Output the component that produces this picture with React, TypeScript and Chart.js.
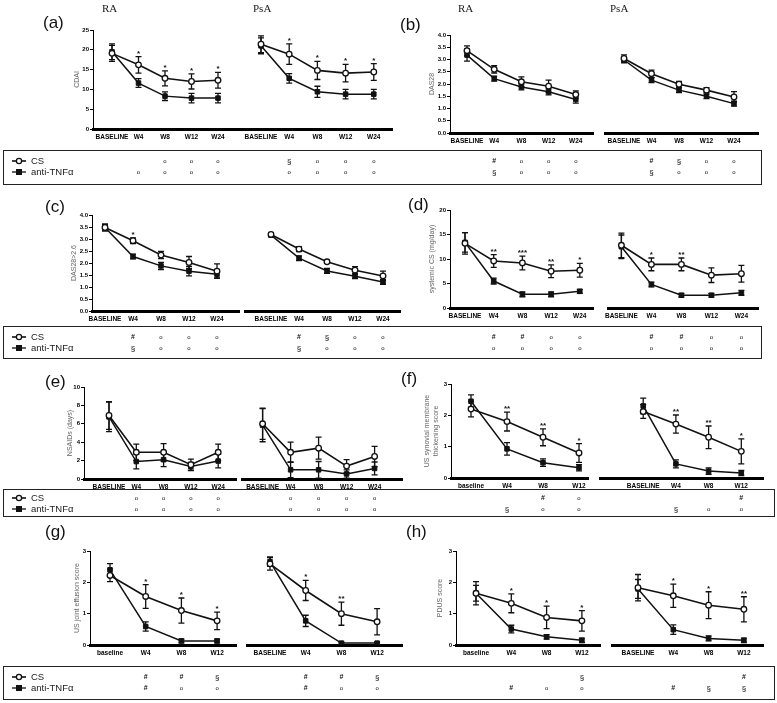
import React, { useEffect, useRef } from 'react';
import { Chart, registerables } from 'chart.js';

Chart.register(...registerables);

const FONT = 'Arial, "Liberation Sans", Helvetica, sans-serif';
const INK = '#111';
const XH = 12;

// ---- categories ----
const WEEKS5 = ['BASELINE', 'W4', 'W8', 'W12', 'W24'];
const WEEKS4_LC = ['baseline', 'W4', 'W8', 'W12'];
const WEEKS4_UC = ['BASELINE', 'W4', 'W8', 'W12'];
const GROUPS = ['RA', 'PsA'];
const SERIES = ['CS', 'anti-TNFα'];

// ---- (a) CDAI ----
const A_RA_CS = [19.1, 16.2, 12.8, 12.0, 12.3];
const A_RA_CS_ERR = [2.0, 2.1, 1.9, 1.9, 2.0];
const A_RA_TNF = [19.5, 11.6, 8.3, 7.8, 7.8];
const A_RA_TNF_ERR = [2.0, 1.1, 1.1, 1.2, 1.2];
const A_RA_STARS = ['', '*', '*', '*', '*'];
const A_RA_TAB_CS = ['', '', 'o', 'o', 'o'];
const A_RA_TAB_TNF = ['', 'o', 'o', 'o', 'o'];
const A_PSA_CS = [21.4, 18.9, 14.8, 14.1, 14.4];
const A_PSA_CS_ERR = [2.1, 2.6, 2.3, 2.2, 2.1];
const A_PSA_TNF = [21.0, 12.8, 9.4, 8.8, 8.8];
const A_PSA_TNF_ERR = [2.0, 1.2, 1.4, 1.2, 1.2];
const A_PSA_STARS = ['', '*', '*', '*', '*'];
const A_PSA_TAB_CS = ['', '§', 'o', 'o', 'o'];
const A_PSA_TAB_TNF = ['', 'o', 'o', 'o', 'o'];

// ---- (b) DAS28 ----
const B_RA_CS = [3.36, 2.6, 2.09, 1.91, 1.57];
const B_RA_CS_ERR = [0.2, 0.15, 0.2, 0.25, 0.15];
const B_RA_TNF = [3.18, 2.22, 1.88, 1.68, 1.37];
const B_RA_TNF_ERR = [0.25, 0.1, 0.12, 0.12, 0.15];
const B_RA_STARS = ['', '', '', '', ''];
const B_RA_TAB_CS = ['', '#', 'o', 'o', 'o'];
const B_RA_TAB_TNF = ['', '§', 'o', 'o', 'o'];
const B_PSA_CS = [3.04, 2.42, 1.99, 1.75, 1.47];
const B_PSA_CS_ERR = [0.15, 0.15, 0.12, 0.1, 0.22];
const B_PSA_TNF = [2.98, 2.16, 1.75, 1.5, 1.2];
const B_PSA_TNF_ERR = [0.12, 0.1, 0.1, 0.1, 0.1];
const B_PSA_STARS = ['', '', '', '', ''];
const B_PSA_TAB_CS = ['', '#', '§', 'o', 'o'];
const B_PSA_TAB_TNF = ['', '§', 'o', 'o', 'o'];

// ---- (c) DAS28>2.6 ----
const C_RA_CS = [3.48, 2.93, 2.33, 2.02, 1.66];
const C_RA_CS_ERR = [0.15, 0.12, 0.15, 0.25, 0.3];
const C_RA_TNF = [3.48, 2.27, 1.88, 1.66, 1.53];
const C_RA_TNF_ERR = [0.12, 0.1, 0.15, 0.2, 0.15];
const C_RA_STARS = ['', '*', '', '', ''];
const C_RA_TAB_CS = ['', '#', 'o', 'o', 'o'];
const C_RA_TAB_TNF = ['', '§', 'o', 'o', 'o'];
const C_PSA_CS = [3.19, 2.58, 2.05, 1.7, 1.46];
const C_PSA_CS_ERR = [0.06, 0.1, 0.06, 0.15, 0.2];
const C_PSA_TNF = [3.16, 2.2, 1.67, 1.45, 1.21];
const C_PSA_TNF_ERR = [0.06, 0.1, 0.1, 0.1, 0.1];
const C_PSA_STARS = ['', '', '', '', ''];
const C_PSA_TAB_CS = ['', '#', '§', 'o', 'o'];
const C_PSA_TAB_TNF = ['', '§', 'o', 'o', 'o'];

// ---- (d) systemic CS ----
const D_RA_CS = [13.2, 9.6, 9.2, 7.5, 7.7];
const D_RA_CS_ERR = [2.2, 1.3, 1.4, 1.3, 1.4];
const D_RA_TNF = [13.4, 5.5, 2.8, 2.8, 3.4];
const D_RA_TNF_ERR = [2.0, 0.6, 0.5, 0.5, 0.4];
const D_RA_STARS = ['', '**', '***', '**', '*'];
const D_RA_TAB_CS = ['', '#', '#', 'o', 'o'];
const D_RA_TAB_TNF = ['', 'o', 'o', 'o', 'o'];
const D_PSA_CS = [12.8, 8.9, 8.9, 6.7, 7.0];
const D_PSA_CS_ERR = [2.5, 1.3, 1.3, 1.5, 1.7];
const D_PSA_TNF = [12.5, 4.8, 2.6, 2.6, 3.1];
const D_PSA_TNF_ERR = [2.4, 0.5, 0.4, 0.4, 0.5];
const D_PSA_STARS = ['', '*', '**', '', ''];
const D_PSA_TAB_CS = ['', '#', '#', 'o', 'o'];
const D_PSA_TAB_TNF = ['', 'o', 'o', 'o', 'o'];

// ---- (e) NSAIDs ----
const E_RA_CS = [6.9, 2.9, 2.9, 1.55, 2.9];
const E_RA_CS_ERR = [1.5, 0.9, 0.95, 0.6, 0.9];
const E_RA_TNF = [6.75, 1.9, 2.1, 1.35, 1.95];
const E_RA_TNF_ERR = [1.6, 0.8, 0.75, 0.45, 0.75];
const E_RA_STARS = ['', '', '', '', ''];
const E_RA_TAB_CS = ['', 'o', 'o', 'o', 'o'];
const E_RA_TAB_TNF = ['', 'o', 'o', 'o', 'o'];
const E_PSA_CS = [6.0, 2.9, 3.35, 1.4, 2.45];
const E_PSA_CS_ERR = [1.7, 1.1, 1.2, 0.7, 1.1];
const E_PSA_TNF = [5.85, 1.0, 1.0, 0.55, 1.15];
const E_PSA_TNF_ERR = [1.8, 0.85, 0.9, 0.45, 0.7];
const E_PSA_STARS = ['', '', '', '', ''];
const E_PSA_TAB_CS = ['', 'o', 'o', 'o', 'o'];
const E_PSA_TAB_TNF = ['', 'o', 'o', 'o', 'o'];

// ---- (f) US synovial membrane thickening ----
const F_RA_CS = [2.2, 1.8, 1.3, 0.8];
const F_RA_CS_ERR = [0.25, 0.3, 0.27, 0.3];
const F_RA_TNF = [2.45, 0.93, 0.49, 0.33];
const F_RA_TNF_ERR = [0.2, 0.2, 0.12, 0.1];
const F_RA_STARS = ['', '**', '**', '*'];
const F_RA_TAB_CS = ['', '', '#', 'o'];
const F_RA_TAB_TNF = ['', '§', 'o', 'o'];
const F_PSA_CS = [2.12, 1.72, 1.3, 0.85];
const F_PSA_CS_ERR = [0.22, 0.29, 0.36, 0.4];
const F_PSA_TNF = [2.3, 0.45, 0.22, 0.16];
const F_PSA_TNF_ERR = [0.25, 0.13, 0.1, 0.08];
const F_PSA_STARS = ['', '**', '**', '*'];
const F_PSA_TAB_CS = ['', '', '', '#'];
const F_PSA_TAB_TNF = ['', '§', 'o', 'o'];

// ---- (g) US joint effusion ----
const G_RA_CS = [2.22, 1.55, 1.1, 0.77];
const G_RA_CS_ERR = [0.2, 0.38, 0.4, 0.28];
const G_RA_TNF = [2.4, 0.59, 0.13, 0.13];
const G_RA_TNF_ERR = [0.2, 0.15, 0.06, 0.06];
const G_RA_STARS = ['', '*', '*', '*'];
const G_RA_TAB_CS = ['', '#', '#', '§'];
const G_RA_TAB_TNF = ['', '#', 'o', 'o'];
const G_PSA_CS = [2.59, 1.74, 1.0, 0.74];
const G_PSA_CS_ERR = [0.2, 0.32, 0.37, 0.42];
const G_PSA_TNF = [2.66, 0.77, 0.06, 0.06];
const G_PSA_TNF_ERR = [0.15, 0.18, 0.03, 0.03];
const G_PSA_STARS = ['', '*', '**', ''];
const G_PSA_TAB_CS = ['', '#', '#', '§'];
const G_PSA_TAB_TNF = ['', '#', 'o', 'o'];

// ---- (h) PDUS ----
const H_RA_CS = [1.65, 1.33, 0.88, 0.77];
const H_RA_CS_ERR = [0.37, 0.3, 0.36, 0.33];
const H_RA_TNF = [1.65, 0.51, 0.26, 0.15];
const H_RA_TNF_ERR = [0.25, 0.12, 0.07, 0.07];
const H_RA_STARS = ['', '*', '*', '*'];
const H_RA_TAB_CS = ['', '', '', '§'];
const H_RA_TAB_TNF = ['', '#', 'o', 'o'];
const H_PSA_CS = [1.83, 1.57, 1.27, 1.14];
const H_PSA_CS_ERR = [0.42, 0.37, 0.43, 0.4];
const H_PSA_TNF = [1.79, 0.49, 0.21, 0.15];
const H_PSA_TNF_ERR = [0.3, 0.15, 0.08, 0.07];
const H_PSA_STARS = ['', '*', '*', '**'];
const H_PSA_TAB_CS = ['', '', '', '#'];
const H_PSA_TAB_TNF = ['', '#', '§', '§'];

// ---- layout ----
type Row = { top: number; bottom: number; cs: number; tnf: number; boxTop: number; boxBottom: number; boxRight: number };
type Geo = {
  yAxisX: number; top: number; bottom: number; yw: number;
  raFirst: number; raStep: number; raRight: number;
  psaLeft: number; psaFirst: number; psaStep: number; psaRight: number;
};
type SubData = {
  labels: string[]; cs: number[]; csErr: number[]; tnf: number[]; tnfErr: number[];
  stars: string[]; tabCS: string[]; tabTNF: string[];
};
type Panel = {
  tag: string; tagX: number; tagY: number; leftSide: boolean; row: Row; geo: Geo;
  yMax: number; yStep: number; yDec: number; yTitle: string | string[];
  ra: SubData; psa: SubData;
};

const ROW1: Row = { top: 0, bottom: 190, cs: 161, tnf: 172, boxTop: 150, boxBottom: 185, boxRight: 762 };
const ROW2: Row = { top: 190, bottom: 362, cs: 337, tnf: 348, boxTop: 326, boxBottom: 359, boxRight: 762 };
const ROW3: Row = { top: 365, bottom: 522, cs: 498, tnf: 509, boxTop: 489, boxBottom: 517, boxRight: 775 };
const ROW4: Row = { top: 528, bottom: 703, cs: 677, tnf: 688, boxTop: 666, boxBottom: 700, boxRight: 775 };
const ROWS = [ROW1, ROW2, ROW3, ROW4];

const sd = (labels: string[], cs: number[], csErr: number[], tnf: number[], tnfErr: number[], stars: string[], tabCS: string[], tabTNF: string[]): SubData =>
  ({ labels, cs, csErr, tnf, tnfErr, stars, tabCS, tabTNF });

const PANELS: Panel[] = [
  {
    tag: '(a)', tagX: 43, tagY: 13, leftSide: true, row: ROW1,
    geo: { yAxisX: 93, top: 30, bottom: 129, yw: 20, raFirst: 112, raStep: 26.5, raRight: 239, psaLeft: 239, psaFirst: 261, psaStep: 28.2, psaRight: 392 },
    yMax: 25, yStep: 5, yDec: 0, yTitle: 'CDAI',
    ra: sd(WEEKS5, A_RA_CS, A_RA_CS_ERR, A_RA_TNF, A_RA_TNF_ERR, A_RA_STARS, A_RA_TAB_CS, A_RA_TAB_TNF),
    psa: sd(WEEKS5, A_PSA_CS, A_PSA_CS_ERR, A_PSA_TNF, A_PSA_TNF_ERR, A_PSA_STARS, A_PSA_TAB_CS, A_PSA_TAB_TNF),
  },
  {
    tag: '(b)', tagX: 400, tagY: 15, leftSide: false, row: ROW1,
    geo: { yAxisX: 450, top: 35, bottom: 133, yw: 22, raFirst: 467, raStep: 27.2, raRight: 593, psaLeft: 605, psaFirst: 624, psaStep: 27.5, psaRight: 758 },
    yMax: 4, yStep: 0.5, yDec: 1, yTitle: 'DAS28',
    ra: sd(WEEKS5, B_RA_CS, B_RA_CS_ERR, B_RA_TNF, B_RA_TNF_ERR, B_RA_STARS, B_RA_TAB_CS, B_RA_TAB_TNF),
    psa: sd(WEEKS5, B_PSA_CS, B_PSA_CS_ERR, B_PSA_TNF, B_PSA_TNF_ERR, B_PSA_STARS, B_PSA_TAB_CS, B_PSA_TAB_TNF),
  },
  {
    tag: '(c)', tagX: 45, tagY: 197, leftSide: true, row: ROW2,
    geo: { yAxisX: 92, top: 215, bottom: 311, yw: 22, raFirst: 105, raStep: 28, raRight: 239, psaLeft: 245, psaFirst: 271, psaStep: 28, psaRight: 400 },
    yMax: 4, yStep: 0.5, yDec: 1, yTitle: 'DAS28>2.6',
    ra: sd(WEEKS5, C_RA_CS, C_RA_CS_ERR, C_RA_TNF, C_RA_TNF_ERR, C_RA_STARS, C_RA_TAB_CS, C_RA_TAB_TNF),
    psa: sd(WEEKS5, C_PSA_CS, C_PSA_CS_ERR, C_PSA_TNF, C_PSA_TNF_ERR, C_PSA_STARS, C_PSA_TAB_CS, C_PSA_TAB_TNF),
  },
  {
    tag: '(d)', tagX: 408, tagY: 195, leftSide: false, row: ROW2,
    geo: { yAxisX: 450, top: 210, bottom: 308, yw: 22, raFirst: 465, raStep: 28.7, raRight: 593, psaLeft: 608, psaFirst: 621.4, psaStep: 30, psaRight: 758 },
    yMax: 20, yStep: 5, yDec: 0, yTitle: 'systemic CS (mg/day)',
    ra: sd(WEEKS5, D_RA_CS, D_RA_CS_ERR, D_RA_TNF, D_RA_TNF_ERR, D_RA_STARS, D_RA_TAB_CS, D_RA_TAB_TNF),
    psa: sd(WEEKS5, D_PSA_CS, D_PSA_CS_ERR, D_PSA_TNF, D_PSA_TNF_ERR, D_PSA_STARS, D_PSA_TAB_CS, D_PSA_TAB_TNF),
  },
  {
    tag: '(e)', tagX: 45, tagY: 372, leftSide: true, row: ROW3,
    geo: { yAxisX: 84, top: 387, bottom: 479, yw: 18, raFirst: 109, raStep: 27.3, raRight: 236, psaLeft: 242, psaFirst: 262.6, psaStep: 28, psaRight: 402 },
    yMax: 10, yStep: 2, yDec: 0, yTitle: 'NSAIDs (days)',
    ra: sd(WEEKS5, E_RA_CS, E_RA_CS_ERR, E_RA_TNF, E_RA_TNF_ERR, E_RA_STARS, E_RA_TAB_CS, E_RA_TAB_TNF),
    psa: sd(WEEKS5, E_PSA_CS, E_PSA_CS_ERR, E_PSA_TNF, E_PSA_TNF_ERR, E_PSA_STARS, E_PSA_TAB_CS, E_PSA_TAB_TNF),
  },
  {
    tag: '(f)', tagX: 401, tagY: 369, leftSide: false, row: ROW3,
    geo: { yAxisX: 451, top: 384, bottom: 478, yw: 28, raFirst: 471, raStep: 36, raRight: 588, psaLeft: 600, psaFirst: 643.2, psaStep: 32.7, psaRight: 763 },
    yMax: 3, yStep: 1, yDec: 0, yTitle: ['US synovial membrane', 'thickening score'],
    ra: sd(WEEKS4_LC, F_RA_CS, F_RA_CS_ERR, F_RA_TNF, F_RA_TNF_ERR, F_RA_STARS, F_RA_TAB_CS, F_RA_TAB_TNF),
    psa: sd(WEEKS4_UC, F_PSA_CS, F_PSA_CS_ERR, F_PSA_TNF, F_PSA_TNF_ERR, F_PSA_STARS, F_PSA_TAB_CS, F_PSA_TAB_TNF),
  },
  {
    tag: '(g)', tagX: 45, tagY: 522, leftSide: true, row: ROW4,
    geo: { yAxisX: 90, top: 551, bottom: 645, yw: 17, raFirst: 110, raStep: 35.7, raRight: 236, psaLeft: 247, psaFirst: 270, psaStep: 35.7, psaRight: 402 },
    yMax: 3, yStep: 1, yDec: 0, yTitle: 'US joint effusion score',
    ra: sd(WEEKS4_LC, G_RA_CS, G_RA_CS_ERR, G_RA_TNF, G_RA_TNF_ERR, G_RA_STARS, G_RA_TAB_CS, G_RA_TAB_TNF),
    psa: sd(WEEKS4_UC, G_PSA_CS, G_PSA_CS_ERR, G_PSA_TNF, G_PSA_TNF_ERR, G_PSA_STARS, G_PSA_TAB_CS, G_PSA_TAB_TNF),
  },
  {
    tag: '(h)', tagX: 406, tagY: 522, leftSide: false, row: ROW4,
    geo: { yAxisX: 456, top: 551, bottom: 645, yw: 20, raFirst: 476, raStep: 35.3, raRight: 600, psaLeft: 612, psaFirst: 638, psaStep: 35.3, psaRight: 763 },
    yMax: 3, yStep: 1, yDec: 0, yTitle: 'PDUS score',
    ra: sd(WEEKS4_LC, H_RA_CS, H_RA_CS_ERR, H_RA_TNF, H_RA_TNF_ERR, H_RA_STARS, H_RA_TAB_CS, H_RA_TAB_TNF),
    psa: sd(WEEKS4_UC, H_PSA_CS, H_PSA_CS_ERR, H_PSA_TNF, H_PSA_TNF_ERR, H_PSA_STARS, H_PSA_TAB_CS, H_PSA_TAB_TNF),
  },
];

// group headings (top row only)
const HEADINGS = [
  { text: GROUPS[0], x: 102 }, { text: GROUPS[1], x: 253 },
  { text: GROUPS[0], x: 458 }, { text: GROUPS[1], x: 610 },
];

type Sub = {
  left: number; top: number; w: number; h: number;
  padL: number; padR: number; padT: number; padB: number;
  xmin: number; xmax: number; showY: boolean; yw: number;
  yMax: number; yStep: number; yDec: number; yTitle: string | string[];
  d: SubData; rowCS: number; rowTNF: number; legend: boolean;
};

function buildSubs(): Sub[] {
  const out: Sub[] = [];
  PANELS.forEach((p) => {
    const g = p.geo, r = p.row;
    const h = r.bottom - r.top;
    const padT = g.top - r.top;
    const padB = r.bottom - g.bottom - XH;
    const raLeft = p.leftSide ? 0 : g.yAxisX - g.yw - 4;
    const padR = 8;
    out.push({
      left: raLeft, top: r.top, w: g.raRight + padR - raLeft, h,
      padL: g.yAxisX - g.yw - raLeft, padR, padT, padB,
      xmin: (g.yAxisX - g.raFirst) / g.raStep, xmax: (g.raRight - g.raFirst) / g.raStep,
      showY: true, yw: g.yw, yMax: p.yMax, yStep: p.yStep, yDec: p.yDec, yTitle: p.yTitle,
      d: p.ra, rowCS: r.cs - r.top, rowTNF: r.tnf - r.top, legend: p.leftSide,
    });
    const psLeft = g.psaLeft - 8;
    out.push({
      left: psLeft, top: r.top, w: g.psaRight + padR - psLeft, h,
      padL: 8, padR, padT, padB,
      xmin: (g.psaLeft - g.psaFirst) / g.psaStep, xmax: (g.psaRight - g.psaFirst) / g.psaStep,
      showY: false, yw: 0, yMax: p.yMax, yStep: p.yStep, yDec: p.yDec, yTitle: p.yTitle,
      d: p.psa, rowCS: r.cs - r.top, rowTNF: r.tnf - r.top, legend: false,
    });
  });
  return out;
}

const SUBS = buildSubs();

function makeChart(canvas: HTMLCanvasElement, s: Sub): Chart {
  const d = s.d;
  const overlay = {
    id: 'overlay',
    beforeDatasetsDraw(chart: any) {
      const ctx = chart.ctx, xs = chart.scales.x, ys = chart.scales.y;
      ctx.save();
      ctx.strokeStyle = INK;
      ctx.lineWidth = 1.3;
      const bars = (vals: number[], errs: number[]) => vals.forEach((v, i) => {
        const x = xs.getPixelForValue(i);
        const y1 = ys.getPixelForValue(v + errs[i]);
        const y2 = ys.getPixelForValue(Math.max(0, v - errs[i]));
        ctx.beginPath();
        ctx.moveTo(x, y1); ctx.lineTo(x, y2);
        ctx.moveTo(x - 3, y1); ctx.lineTo(x + 3, y1);
        ctx.moveTo(x - 3, y2); ctx.lineTo(x + 3, y2);
        ctx.stroke();
      });
      bars(d.tnf, d.tnfErr);
      bars(d.cs, d.csErr);
      ctx.restore();
    },
    afterDraw(chart: any) {
      const ctx = chart.ctx, xs = chart.scales.x, ys = chart.scales.y;
      ctx.save();
      ctx.fillStyle = INK;
      ctx.textAlign = 'center';
      // significance stars
      ctx.textBaseline = 'alphabetic';
      ctx.font = `bold 8px ${FONT}`;
      d.stars.forEach((st, i) => {
        if (!st) return;
        ctx.fillText(st, xs.getPixelForValue(i), ys.getPixelForValue(d.cs[i] + d.csErr[i]) - 1);
      });
      // table symbols
      ctx.textBaseline = 'middle';
      const sym = (t: string, x: number, y: number) => {
        if (!t) return;
        ctx.font = t === 'o' ? `6px ${FONT}` : t === '#' ? `bold 7px ${FONT}` : `8px ${FONT}`;
        ctx.fillText(t, x, y + (t === 'o' ? 0 : 0.5));
      };
      d.tabCS.forEach((t, i) => sym(t, xs.getPixelForValue(i), s.rowCS));
      d.tabTNF.forEach((t, i) => sym(t, xs.getPixelForValue(i), s.rowTNF));
      // legend
      if (s.legend) {
        ctx.textAlign = 'left';
        ctx.font = `9.5px ${FONT}`;
        ctx.strokeStyle = INK;
        ctx.lineWidth = 1.6;
        [s.rowCS, s.rowTNF].forEach((y, k) => {
          ctx.beginPath(); ctx.moveTo(12, y); ctx.lineTo(26, y); ctx.stroke();
          if (k === 0) {
            ctx.beginPath(); ctx.arc(19, y, 2.6, 0, Math.PI * 2);
            ctx.fillStyle = '#fff'; ctx.fill(); ctx.lineWidth = 1.3; ctx.stroke();
          } else {
            ctx.fillStyle = INK; ctx.fillRect(16, y - 3, 6, 6);
          }
          ctx.fillStyle = '#222';
          ctx.fillText(SERIES[k], 31, y + 0.5);
        });
      }
      ctx.restore();
    },
  };

  return new Chart(canvas, {
    type: 'line',
    data: {
      datasets: [
        {
          label: SERIES[0],
          data: d.cs.map((v, i) => ({ x: i, y: v })),
          borderColor: INK, borderWidth: 1.6, tension: 0,
          pointStyle: 'circle', pointRadius: 2.8,
          pointBackgroundColor: '#fff', pointBorderColor: INK, pointBorderWidth: 1.3,
        },
        {
          label: SERIES[1],
          data: d.tnf.map((v, i) => ({ x: i, y: v })),
          borderColor: INK, borderWidth: 1.5, tension: 0,
          pointStyle: 'rect', pointRadius: 3.2,
          pointBackgroundColor: INK, pointBorderColor: INK, pointBorderWidth: 1,
        },
      ],
    },
    options: {
      animation: false,
      responsive: false,
      devicePixelRatio: 1,
      layout: { padding: { left: s.padL, right: s.padR, top: s.padT, bottom: s.padB } },
      plugins: { legend: { display: false }, tooltip: { enabled: false }, title: { display: false } },
      scales: {
        x: {
          type: 'linear', min: s.xmin, max: s.xmax,
          afterBuildTicks: (ax: any) => { ax.ticks = d.labels.map((_, i) => ({ value: i })); },
          afterFit: (ax: any) => { ax.height = XH; },
          ticks: {
            autoSkip: false, maxRotation: 0, minRotation: 0, padding: 4, color: '#000',
            font: { size: 6.5, weight: 'bold', family: FONT },
            callback: (v: any) => d.labels[Math.round(Number(v))] ?? '',
          },
          grid: { display: false, drawTicks: false },
          border: { display: true, color: '#000', width: 3 },
        },
        y: {
          display: s.showY, min: 0, max: s.yMax,
          afterFit: (ax: any) => { if (s.showY) ax.width = s.yw; },
          ticks: {
            stepSize: s.yStep, padding: 1, color: '#000',
            font: { size: 6, weight: 'bold', family: FONT },
            callback: (v: any) => Number(v).toFixed(s.yDec),
          },
          grid: { display: true, drawOnChartArea: false, drawTicks: true, tickLength: 3, color: '#000', lineWidth: 1 },
          border: { display: true, color: '#000', width: 1 },
          title: { display: true, text: s.yTitle, color: '#666', font: { size: 7, family: FONT }, padding: 0 },
        },
      },
    } as any,
    plugins: [overlay],
  });
}

export default function App() {
  const refs = useRef<(HTMLCanvasElement | null)[]>([]);
  useEffect(() => {
    document.body.style.margin = '0';
    const charts = SUBS.map((s, i) => makeChart(refs.current[i] as HTMLCanvasElement, s));
    return () => charts.forEach((c) => c.destroy());
  }, []);

  return (
    <div style={{ position: 'absolute', left: 0, top: 0, width: 777, height: 703, background: '#fff', overflow: 'hidden', fontFamily: FONT }}>
      {ROWS.map((r, i) => (
        <div key={'box' + i} style={{
          position: 'absolute', left: 3, top: r.boxTop, width: r.boxRight - 3, height: r.boxBottom - r.boxTop,
          border: '1.5px solid #222', boxSizing: 'border-box',
        }} />
      ))}
      {SUBS.map((s, i) => (
        <canvas key={i} ref={(el) => { refs.current[i] = el; }} width={s.w} height={s.h}
          style={{ position: 'absolute', left: s.left, top: s.top, width: s.w, height: s.h }} />
      ))}
      {PANELS.map((p) => (
        <div key={p.tag} style={{ position: 'absolute', left: p.tagX, top: p.tagY, fontSize: 17, lineHeight: '20px', color: '#111' }}>{p.tag}</div>
      ))}
      {HEADINGS.map((h, i) => (
        <div key={'h' + i} style={{ position: 'absolute', left: h.x, top: 1, fontSize: 11, lineHeight: '14px', fontFamily: '"Liberation Serif", "DejaVu Serif", serif', color: '#222' }}>{h.text}</div>
      ))}
    </div>
  );
}
